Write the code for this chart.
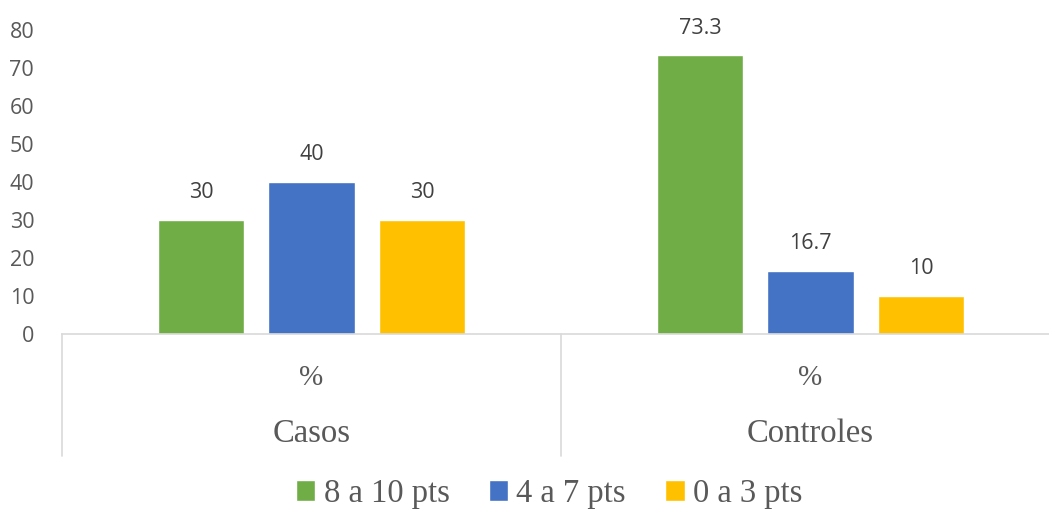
import pandas as pd, numpy as np, matplotlib
matplotlib.use('Agg')
import matplotlib.pyplot as plt, seaborn as sns

# datos
grupos = ['Casos', 'Controles']
subcat = '%'
series = ['8 a 10 pts', '4 a 7 pts', '0 a 3 pts']
valores_casos = [30, 40, 30]
valores_controles = [73.3, 16.7, 10]
colores = ['#70AD47', '#4472C4', '#FFC000']
yticks = [0, 10, 20, 30, 40, 50, 60, 70, 80]

df = pd.DataFrame({
    'Grupo': [grupos[0]] * 3 + [grupos[1]] * 3,
    'Puntaje': series + series,
    'Valor': valores_casos + valores_controles,
})

sns.set_theme(style='white')
serif = ['Liberation Serif', 'DejaVu Serif']
sans = ['Open Sans', 'DejaVu Sans']

fig = plt.figure(figsize=(10.49, 5.14), dpi=100)
W, H = 1049, 514
ax = fig.add_axes([62 / W, 1 - 334 / H, (W - 62) / W, (334 - 30) / H])

sns.barplot(data=df, x='Grupo', y='Valor', hue='Puntaje', order=grupos, hue_order=series,
            palette=colores, width=0.664, gap=0.214, saturation=1, ax=ax, legend=True)

ax.set_ylim(0, 80)
ax.set_xlim(-0.5, (W - 62) / 499 - 0.5)
ax.set_yticks(yticks)
ax.set_yticklabels([str(t) for t in yticks], fontsize=15.5, color='#595959', family=sans)
ax.tick_params(axis='y', length=0, pad=20)
ax.set_xticks([])
ax.set_xlabel(''); ax.set_ylabel('')
for s in ['top', 'right', 'left']:
    ax.spines[s].set_visible(False)
ax.spines['bottom'].set_color('#D9D9D9')
ax.spines['bottom'].set_linewidth(1.2)

# etiquetas de datos
for cont in ax.containers:
    labels = [('%g' % v) for v in cont.datavalues]
    ax.bar_label(cont, labels=labels, padding=12, fontsize=15.5, color='#404040', family=sans)

# eje de categorías en dos niveles
tr = ax.get_xaxis_transform()
y_sep = -(456 - 334) / (334 - 30)
for xs in [-0.5, 0.5, 1.5]:
    ax.plot([xs, xs], [0, y_sep], transform=tr, color='#D9D9D9', lw=1.2, clip_on=False)
for i, g in enumerate(grupos):
    ax.text(i, -(378 - 334) / 304, subcat, transform=tr, ha='center', va='center',
            fontsize=21, color='#595959', family=serif)
    ax.text(i, -(434 - 334) / 304, g, transform=tr, ha='center', va='center',
            fontsize=23.5, color='#595959', family=serif)

h, l = ax.get_legend_handles_labels()
ax.get_legend().remove()
leg = fig.legend(h, l, loc='center', bbox_to_anchor=(549 / W, 1 - 494 / H), ncol=3, frameon=False,
                 handlelength=0.6, handleheight=0.6, handletextpad=0.25, columnspacing=1.2,
                 prop={'family': serif, 'size': 23.5})
for t in leg.get_texts():
    t.set_color('#595959')

fig.savefig('out.png', dpi=100)
